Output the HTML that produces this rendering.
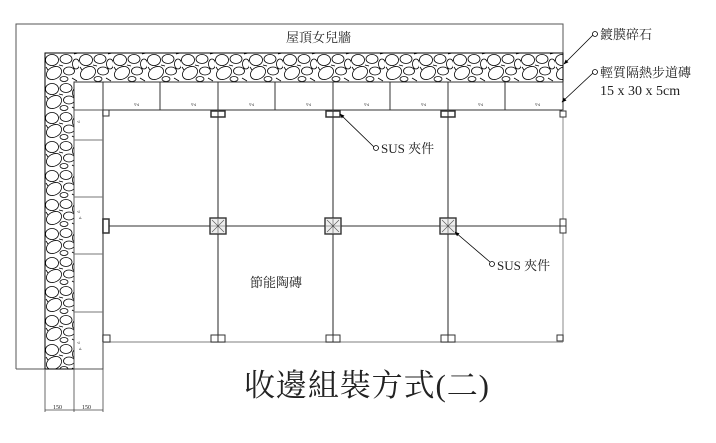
<!DOCTYPE html>
<html><head><meta charset="utf-8"><style>
html,body{margin:0;padding:0;background:#fff;}
svg{display:block;}
text{font-family:"Liberation Serif","Noto Serif CJK SC","Noto Sans CJK TC",serif;fill:#222;}
</style></head><body>
<svg width="716" height="443" viewBox="0 0 716 443" xmlns="http://www.w3.org/2000/svg">
<defs>
<pattern id="g" x="45" y="53" width="34" height="29" patternUnits="userSpaceOnUse">
<rect width="34" height="29" fill="#fff"/>
<g fill="none" stroke="#000" stroke-width="0.8">
<ellipse cx="7" cy="7" rx="6.5" ry="5.5"/>
<ellipse cx="21" cy="6" rx="6" ry="4.5"/>
<ellipse cx="31" cy="11" rx="3.5" ry="5"/>
<ellipse cx="9" cy="20" rx="8" ry="6" transform="rotate(-30 9 20)"/>
<ellipse cx="24" cy="18" rx="5.5" ry="4"/>
<ellipse cx="19" cy="26" rx="4" ry="2.5"/>
<path d="M14 12 l4 1 M27 25 l5 3 M1 14 l2 3 M29 1 l4 -1"/>
</g>
</pattern>
<marker id="a" viewBox="0 0 10 10" refX="9" refY="5" markerWidth="8" markerHeight="6" orient="auto"><path d="M0 1 L10 5 L0 9 z" fill="#000"/></marker>
</defs>
<path d="M16 369 V24 H563 V53" fill="none" stroke="#555" stroke-width="1"/>
<line x1="16" y1="369" x2="45" y2="369" stroke="#555"/>
<path d="M45 53 H563 V82 H74 V369 H45 Z" fill="url(#g)" stroke="#000" stroke-width="1"/>
<rect x="74" y="82" width="489" height="28" fill="#fff" stroke="#333" stroke-width="1"/>
<g stroke="#333" stroke-width="1">
<line x1="103" y1="82" x2="103" y2="110"/><line x1="160" y1="82" x2="160" y2="110"/>
<line x1="218" y1="82" x2="218" y2="110"/><line x1="275" y1="82" x2="275" y2="110"/>
<line x1="333" y1="82" x2="333" y2="110"/><line x1="390" y1="82" x2="390" y2="110"/>
<line x1="448" y1="82" x2="448" y2="110"/><line x1="505" y1="82" x2="505" y2="110"/>
</g>
<rect x="74" y="110" width="29" height="259" fill="#fff" stroke="#555" stroke-width="1"/>
<g stroke="#777"><line x1="74" y1="140" x2="103" y2="140"/><line x1="74" y1="197" x2="103" y2="197"/><line x1="74" y1="254" x2="103" y2="254"/><line x1="74" y1="312" x2="103" y2="312"/></g>
<g fill="#555" font-size="5"><text x="134" y="106">▿◃</text><text x="191" y="106">▿◃</text><text x="249" y="106">▿◃</text><text x="306" y="106">▿◃</text><text x="364" y="106">▿◃</text><text x="421" y="106">▿◃</text><text x="478" y="106">▿◃</text><text x="535" y="106">▿◃</text>
<text x="77" y="123">◃</text><text x="77" y="213">◃</text><text x="79" y="219">▵</text><text x="77" y="344">◃</text><text x="79" y="350">▵</text></g>
<g stroke="#444" stroke-width="0.8"><line x1="45" y1="369" x2="45" y2="412"/><line x1="74" y1="369" x2="74" y2="412"/><line x1="103" y1="342" x2="103" y2="412"/><line x1="45" y1="410" x2="103" y2="410"/></g>
<text x="53" y="409" font-size="6">150</text><text x="82" y="409" font-size="6">150</text>
<g stroke="#777" stroke-width="1.6" fill="none">
<line x1="103" y1="110" x2="103" y2="342"/>
<line x1="218" y1="110" x2="218" y2="342"/>
<line x1="333" y1="110" x2="333" y2="342"/>
<line x1="448" y1="110" x2="448" y2="342"/>
<line x1="103" y1="226" x2="563" y2="226"/>
</g>
<g stroke="#aaa" stroke-width="1.4"><line x1="563" y1="110" x2="563" y2="342"/><line x1="103" y1="342" x2="563" y2="342"/></g>
<g fill="#fff" stroke="#333" stroke-width="1">
<rect x="103" y="110" width="6" height="6"/>
<rect x="211" y="111" width="14" height="6" stroke-width="1.5"/><line x1="218" y1="111" x2="218" y2="117"/>
<rect x="326" y="111" width="14" height="6" stroke-width="1.5"/><line x1="333" y1="111" x2="333" y2="117"/>
<rect x="441" y="111" width="14" height="6" stroke-width="1.5"/><line x1="448" y1="111" x2="448" y2="117"/>
<rect x="560" y="111" width="6" height="6"/>
<rect x="103" y="219" width="6" height="14" stroke-width="1.5"/>
<rect x="560" y="219" width="6" height="7"/><rect x="560" y="226" width="6" height="7"/>
<rect x="103" y="335" width="7" height="7"/>
<rect x="211" y="335" width="7" height="7"/><rect x="218" y="335" width="7" height="7"/>
<rect x="326" y="335" width="7" height="7"/><rect x="333" y="335" width="7" height="7"/>
<rect x="441" y="335" width="7" height="7"/><rect x="448" y="335" width="7" height="7"/>
<rect x="557" y="335" width="6" height="6"/>
</g>
<g fill="#eee" stroke="#333" stroke-width="1.4">
<rect x="210" y="218" width="16" height="16"/><rect x="325" y="218" width="16" height="16"/><rect x="440" y="218" width="16" height="16"/>
</g>
<g stroke="#555" stroke-width="0.6">
<path d="M212 220 L224 232 M224 220 L212 232 M218 219 V233 M211 226 H225"/>
<path d="M327 220 L339 232 M339 220 L327 232 M333 219 V233 M326 226 H340"/>
<path d="M442 220 L454 232 M454 220 L442 232 M448 219 V233 M441 226 H455"/>
</g>
<g stroke="#000" stroke-width="0.8" fill="none">
<line x1="593" y1="35" x2="564" y2="64" marker-end="url(#a)"/>
<line x1="593" y1="73" x2="562" y2="102" marker-end="url(#a)"/>
<line x1="374" y1="147" x2="340" y2="114" marker-end="url(#a)"/>
<line x1="490" y1="262" x2="455" y2="232" marker-end="url(#a)"/>
</g>
<g fill="#fff" stroke="#000" stroke-width="0.8">
<circle cx="595" cy="34" r="2.5"/><circle cx="595" cy="72" r="2.5"/><circle cx="376" cy="148" r="2.5"/><circle cx="492" cy="264" r="2.5"/>
</g>
<text x="286" y="42" font-size="13" font-family="Liberation Sans,Noto Sans CJK TC,sans-serif">屋頂女兒牆</text>
<text x="600" y="39" font-size="13">鍍膜碎石</text>
<text x="600" y="77" font-size="13">輕質隔熱步道磚</text>
<text x="600" y="95" font-size="14">15 x 30 x 5cm</text>
<text x="381" y="153" font-size="13">SUS 夾件</text>
<text x="497" y="270" font-size="13">SUS 夾件</text>
<text x="250" y="287" font-size="13" font-family="Liberation Sans,Noto Sans CJK TC,sans-serif">節能陶磚</text>
<text x="244" y="396" font-size="31" font-family="Liberation Serif,Noto Serif CJK SC,serif" fill="#333" textLength="245">收邊組裝方式(二)</text>
</svg>
</body></html>
